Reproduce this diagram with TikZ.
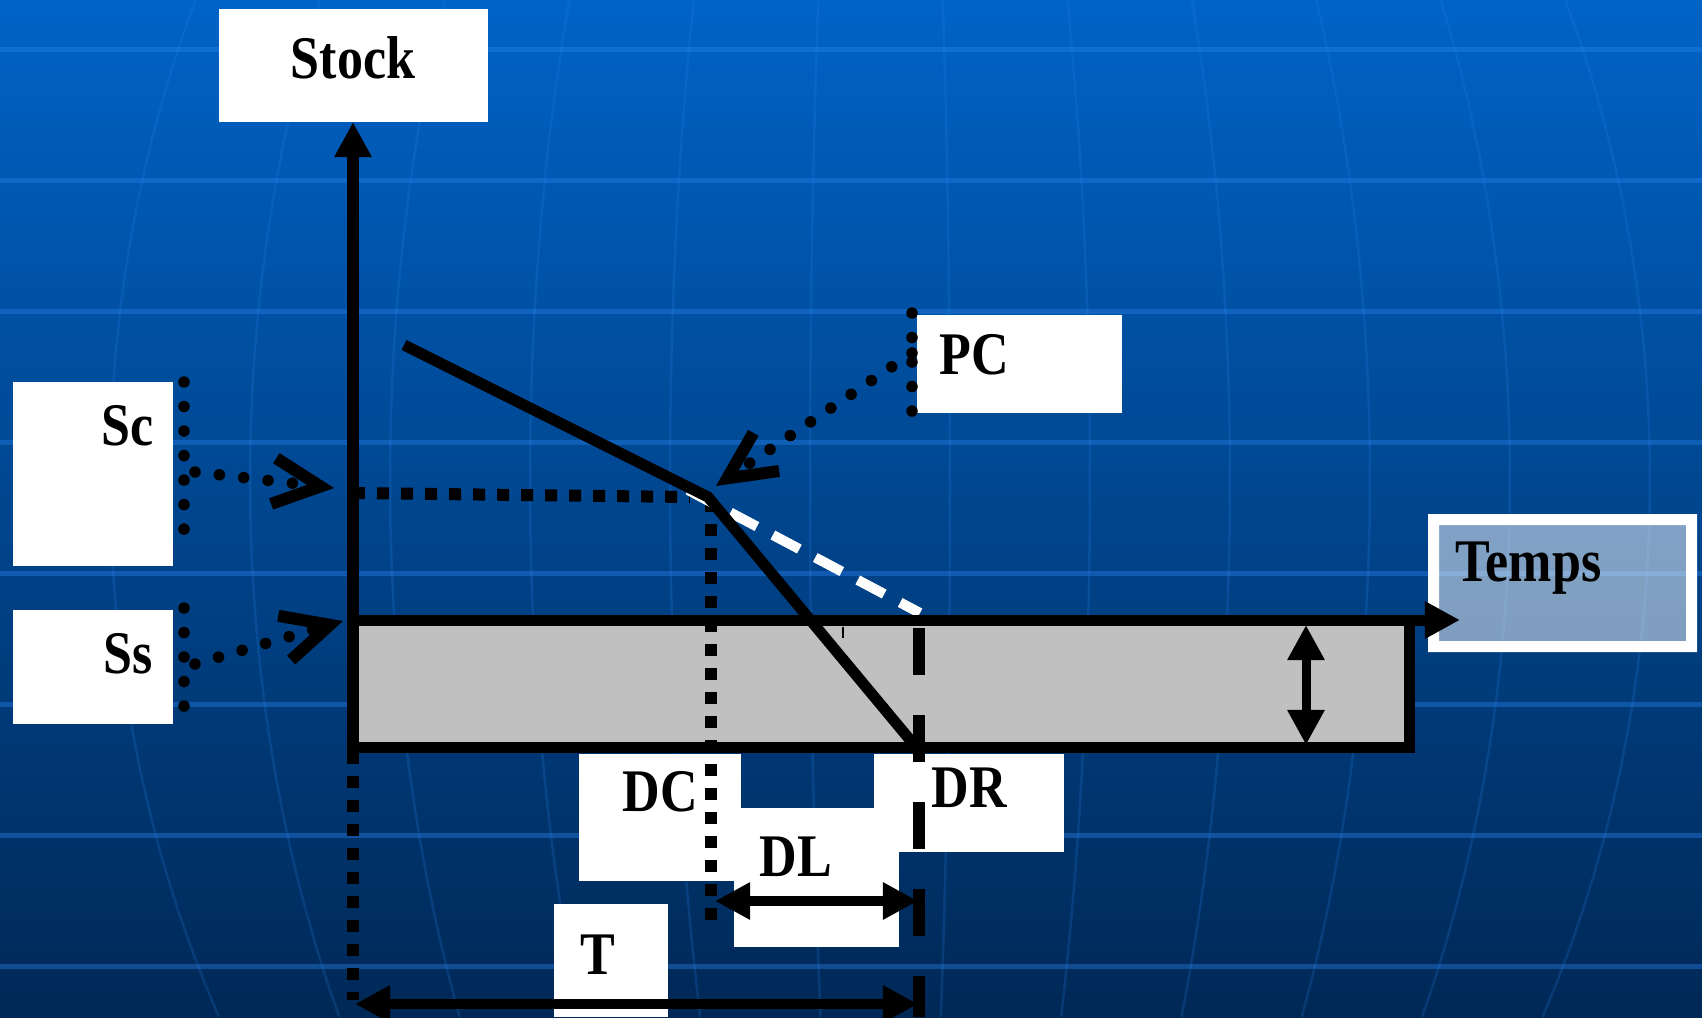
\documentclass[tikz,border=0pt]{standalone}
\usepackage{fontspec}
\newfontfamily\lblfont[FakeStretch=0.86]{Liberation Serif}
\usetikzlibrary{arrows.meta}
\definecolor{bgtop}{RGB}{0,99,198}
\definecolor{bgbot}{RGB}{0,40,86}
\definecolor{gridc}{RGB}{40,130,235}
\definecolor{boxgray}{RGB}{192,192,192}

\begin{document}
\begin{tikzpicture}[x=0.01cm, y=-0.01cm,
  lbl/.style={font=\lblfont\bfseries\fontsize{17.2}{20}\selectfont, inner sep=0pt, anchor=base west},
  wbox/.style={fill=white},
  bar/.style={line width=1.1mm},
  sqdots/.style={line width=1.2mm, dash pattern=on 1.2mm off 1.2mm},
  rdots/.style={line width=1.15mm, line cap=round, dash pattern=on 0mm off 2.45mm},
  barb/.style={-{Straight Barb[length=4.7mm, width=4.6mm, line width=1.2mm]}},
  tri/.style={-{Triangle[length=3.5mm, width=3.5mm]}},
  ditri/.style={{Triangle[length=3.5mm, width=3.5mm]}-{Triangle[length=3.5mm, width=3.5mm]}}]
  \useasboundingbox (0,0) rectangle (1702,1017);
  \clip (0,0) rectangle (1702,1017);
  % Background
  \shade[top color=bgtop, bottom color=bgbot] (0,0) rectangle (1702,1017);
  \foreach \gy in {49,180,...,966}
    \draw[gridc, opacity=0.4, line width=0.5mm] (0,\gy) -- (1702,\gy);
  \foreach \xe in {110,250,...,1650}
    \draw[gridc, opacity=0.2, line width=0.25mm]
      plot[domain=0:1017, samples=30, variable=\t] ({885+(\xe-885)*sqrt(1-((\t-480)/1050)^2)}, \t);
  % Label boxes
  \fill[wbox] (219,9) rectangle (488,122);
  \fill[wbox] (13,382) rectangle (173,566);
  \fill[wbox] (13,610) rectangle (173,724);
  \fill[wbox] (917,315) rectangle (1122,413);
  \fill[wbox] (579,754) rectangle (741,881);
  \fill[wbox] (734,808) rectangle (899,947);
  \fill[wbox] (874,754) rectangle (1064,852);
  \fill[wbox] (554,904) rectangle (668,1017);
  \fill[wbox, even odd rule] (1428,514) rectangle (1697,652) (1439,525) rectangle (1686,641);
  \fill[white, opacity=0.5] (1439,525) rectangle (1686,641);
  % Safety stock band
  \filldraw[fill=boxgray, bar] (353,620) rectangle (1409,747);
  % Points
  \coordinate (O) at (353,620);
  \coordinate (ytop) at (353,122);
  \coordinate (ybot) at (353,747);
  \coordinate (xend) at (1460,620);
  \coordinate (J) at (708,497);
  \coordinate (R) at (916,747);
  % Guides
  \draw[sqdots] (353,493) -- (690,497);
  \draw[sqdots] (711,500) -- (711,923);
  \draw[sqdots] (353,752) -- (353,1000);
  \draw[white, line width=1mm, dash pattern=on 3mm off 1.8mm] (688,490) -- (920,613);
  \draw[line width=1.2mm, dash pattern=on 4.7mm off 4mm] (919,628) -- (919,1017);
  % Stock curve
  \draw[bar] (404,345) -- (J) -- (R);
  % Axes
  \draw[bar, tri] (ybot) -- (ytop);
  \draw[bar, tri] (O) -- (xend);
  \draw[line width=0.2mm] (843,627) -- (843,638);
  % Durations
  \draw[line width=0.9mm, ditri] (1306,625) -- (1306,745);
  \draw[line width=1mm, ditri] (715,901) -- (918,901);
  \draw[line width=1mm, ditri] (355,1004) -- (918,1004);
  % Pointers
  \coordinate (scA) at (195,472);
  \coordinate (scB) at (334,488);
  \coordinate (ssA) at (195,664);
  \coordinate (ssB) at (343,621);
  \coordinate (pcA) at (912,353);
  \coordinate (pcB) at (716,486);
  \draw[rdots] (184,382) -- (184,552);
  \draw[rdots] (184,608) -- (184,707);
  \draw[rdots] (912,313) -- (912,412);
  \draw[rdots, barb] (scA) -- (scB);
  \draw[rdots, barb] (ssA) -- (ssB);
  \draw[rdots, barb] (pcA) -- (pcB);
  % Labels
  \node[lbl, anchor=base] (stock) at (353,78) {Stock};
  \node[lbl] (sc) at (101,445) {Sc};
  \node[lbl] (ss) at (103,673) {Ss};
  \node[lbl] (pc) at (939,374) {PC};
  \node[lbl] (temps) at (1455,581) {Temps};
  \node[lbl] (dc) at (622,811) {DC};
  \node[lbl] (dr) at (931,807) {DR};
  \node[lbl] (dl) at (759,876) {DL};
  \node[lbl] (t) at (580,974) {T};
\end{tikzpicture}
\end{document}
